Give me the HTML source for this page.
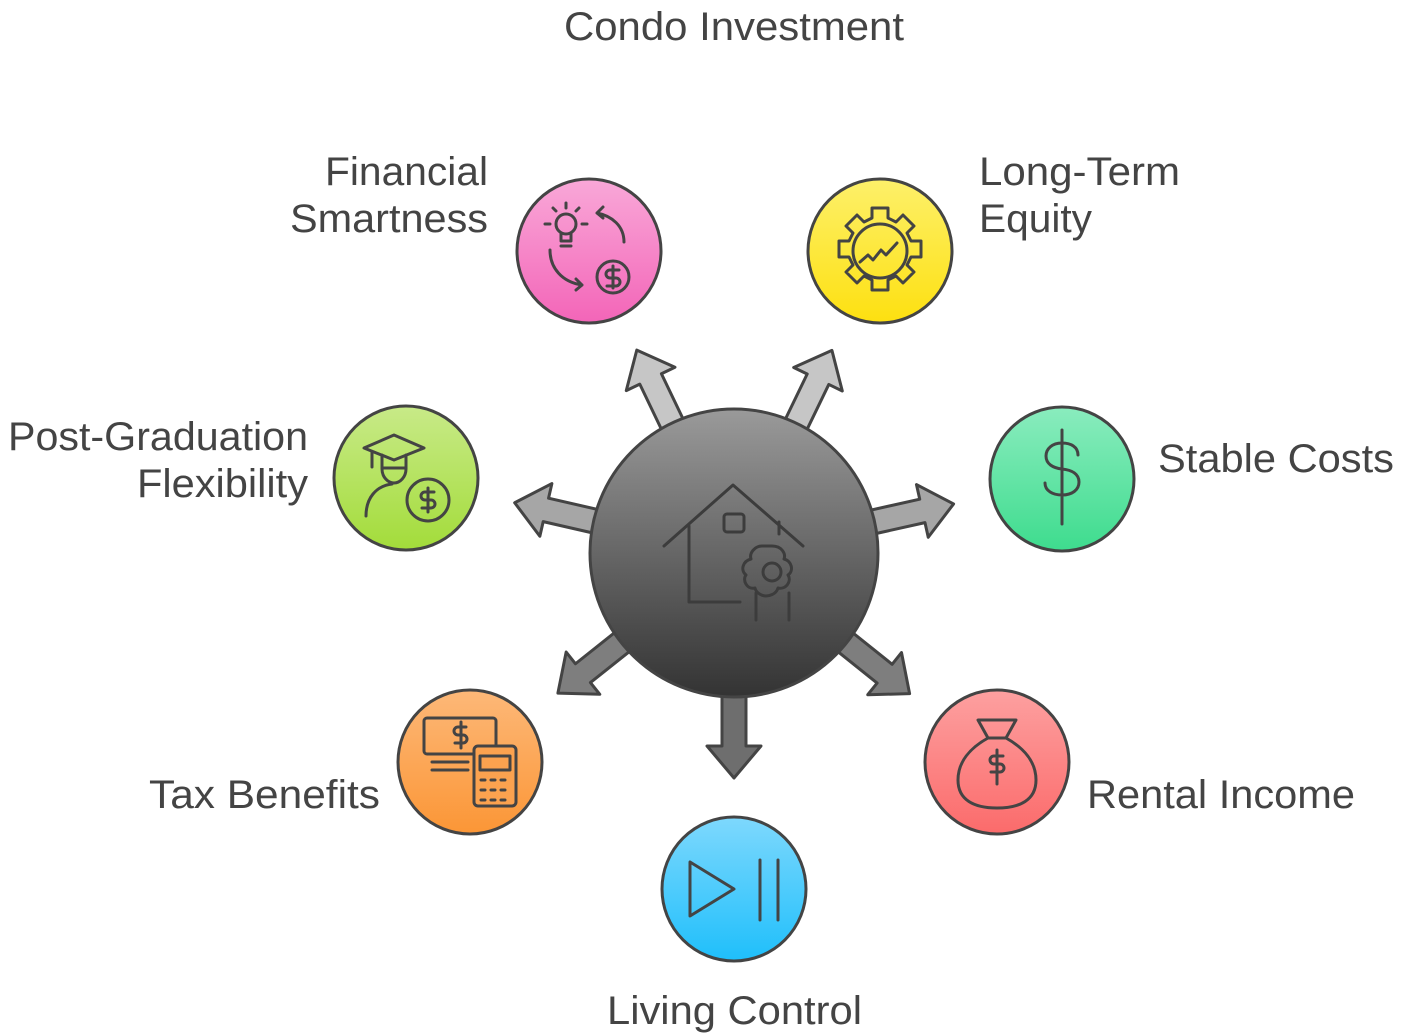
<!DOCTYPE html>
<html><head><meta charset="utf-8"><style>
html,body{margin:0;padding:0;background:#fff;}
svg{display:block;}
text{font-family:"Liberation Sans",sans-serif;font-size:40px;fill:#444;}
</style></head><body>
<svg width="1420" height="1036" viewBox="0 0 1420 1036" xmlns="http://www.w3.org/2000/svg">
<defs>
<linearGradient id="cg" x1="0" y1="0" x2="0" y2="1"><stop offset="0" stop-color="#9a9a9a"/><stop offset="1" stop-color="#333"/></linearGradient>
<linearGradient id="pk" x1="0" y1="0" x2="0" y2="1"><stop offset="0" stop-color="#f9a8d8"/><stop offset="1" stop-color="#f365b8"/></linearGradient>
<linearGradient id="yl" x1="0" y1="0" x2="0" y2="1"><stop offset="0" stop-color="#fdf06a"/><stop offset="1" stop-color="#fde010"/></linearGradient>
<linearGradient id="gr" x1="0" y1="0" x2="0" y2="1"><stop offset="0" stop-color="#c8ea88"/><stop offset="1" stop-color="#a3dc3a"/></linearGradient>
<linearGradient id="mt" x1="0" y1="0" x2="0" y2="1"><stop offset="0" stop-color="#8aecbe"/><stop offset="1" stop-color="#3edc8e"/></linearGradient>
<linearGradient id="or" x1="0" y1="0" x2="0" y2="1"><stop offset="0" stop-color="#fdb878"/><stop offset="1" stop-color="#fb9636"/></linearGradient>
<linearGradient id="rd" x1="0" y1="0" x2="0" y2="1"><stop offset="0" stop-color="#fda0a0"/><stop offset="1" stop-color="#fb6b6b"/></linearGradient>
<linearGradient id="bl" x1="0" y1="0" x2="0" y2="1"><stop offset="0" stop-color="#7ed8fd"/><stop offset="1" stop-color="#1fbffb"/></linearGradient>
</defs>
<text x="734" y="40" text-anchor="middle" textLength="340" lengthAdjust="spacingAndGlyphs">Condo Investment</text>

<g stroke="#444" stroke-width="3" stroke-linejoin="round">
<polygon fill="#c6c6c6" points="100,-12 193,-12 193,-27 225,0 193,27 193,12 100,12" transform="translate(734,553) rotate(-115.6)"/>
<polygon fill="#c6c6c6" points="100,-12 193,-12 193,-27 225,0 193,27 193,12 100,12" transform="translate(734,553) rotate(-64.2)"/>
<polygon fill="#a6a6a6" points="100,-12 193,-12 193,-27 225,0 193,27 193,12 100,12" transform="translate(734,553) rotate(-167.1)"/>
<polygon fill="#a6a6a6" points="100,-12 193,-12 193,-27 225,0 193,27 193,12 100,12" transform="translate(734,553) rotate(-12.6)"/>
<polygon fill="#7e7e7e" points="100,-12 193,-12 193,-27 225,0 193,27 193,12 100,12" transform="translate(734,553) rotate(141.5)"/>
<polygon fill="#7e7e7e" points="100,-12 193,-12 193,-27 225,0 193,27 193,12 100,12" transform="translate(734,553) rotate(38.7)"/>
<polygon fill="#6e6e6e" points="100,-12 193,-12 193,-27 225,0 193,27 193,12 100,12" transform="translate(734,553) rotate(90)"/>
</g>
<circle cx="734" cy="553" r="144" fill="url(#cg)" stroke="#444" stroke-width="3"/>
<g fill="none" stroke="#3c3c3c" stroke-width="3" stroke-linecap="round" stroke-linejoin="round">
<path d="M664 546 L733 485 L803 546"/><path d="M689 526 V602 H740"/><rect x="724" y="514" width="20" height="18" rx="3"/>
<path d="M779 522 V534"/><circle cx="772" cy="572" r="9"/>
<path d="M772 546 c10 0 14 8 12 13 c8 2 10 12 4 16 c4 6 -2 15 -10 13 c-2 7 -10 8 -12 8 c-4 0 -10 -3 -11 -8 c-8 2 -13 -8 -9 -13 c-6 -5 -3 -14 5 -16 c-2 -6 4 -13 11 -13z"/>
<path d="M756 593 V620 M789 593 V620"/>
</g>

<circle cx="589" cy="251" r="72" fill="url(#pk)" stroke="#444" stroke-width="3"/>
<circle cx="880" cy="251" r="72" fill="url(#yl)" stroke="#444" stroke-width="3"/>
<circle cx="406" cy="478" r="72" fill="url(#gr)" stroke="#444" stroke-width="3"/>
<circle cx="1062" cy="479" r="72" fill="url(#mt)" stroke="#444" stroke-width="3"/>
<circle cx="470" cy="762" r="72" fill="url(#or)" stroke="#444" stroke-width="3"/>
<circle cx="997" cy="762" r="72" fill="url(#rd)" stroke="#444" stroke-width="3"/>
<circle cx="734" cy="889" r="72" fill="url(#bl)" stroke="#444" stroke-width="3"/>

<g fill="none" stroke="#444" stroke-width="3" stroke-linecap="round" stroke-linejoin="round">
<circle cx="566" cy="224" r="10"/><path d="M561 234 v7 h10 v-7 M561 246 h10 M550 224 h-5 M582 224 h5 M556 211 l-3 -3 M576 211 l3 -3 M566 208 v-5"/>
<path d="M597 213 c15 3 27 13 27 29 M597 213 l6 -6 M597 213 l6 5"/>
<path d="M550 250 c0 18 12 32 32 35 M582 285 l-6 -6 M582 285 l-6 5"/>
<circle cx="613" cy="277" r="16"/><path d="M619 270 h-9 a4 4 0 0 0 0 8 h6 a4 4 0 0 1 0 8 h-9 M613 266 v22"/>
<path d="M872 208 h16 v10 l8 4 7-7 11 11-7 7 4 8 h10 v16 h-10 l-4 8 7 7-11 11-7-7-8 4 v10 h-16 v-10 l-8-4-7 7-11-11 7-7-4-8 h-10 v-16 h10 l4-8-7-7 11-11 7 7 8-4z"/>
<circle cx="880" cy="251" r="27"/><path d="M860 262 l8-7 5 5 8-10 5 5 11-12"/>
<path d="M364 448 l30 -13 30 13 -30 12z M372 452 v15 M382 455 v14 c0 8 6 14 12 14 c6 0 12 -6 12 -14 v-14 M382 468 h24"/>
<path d="M366 516 c0-18 10-30 26-32"/><circle cx="428" cy="500" r="21"/>
<path d="M434 492 h-9 a4 4 0 0 0 0 8 h6 a4 4 0 0 1 0 8 h-9 M428 488 v24"/>
<path d="M1078 455 c0-8-7-12-16-12 c-10 0-16 6-16 13 c0 8 7 12 16 13 c10 1 17 5 17 13 c0 8-7 13-17 13 c-9 0-17-4-17-12 M1062 430 v94"/>
<rect x="424" y="718" width="72" height="36" rx="3"/><path d="M432 762 h36 M432 770 h36"/>
<rect x="474" y="746" width="42" height="60" rx="4" fill="#fba24f"/><path d="M480 756 h30 v14 h-30z M481 780h4 M491 780h4 M501 780h4 M481 790h4 M491 790h4 M501 790h4 M481 800h4 M491 800h4 M501 800h4"/>
<path d="M466 727 h-8 a4 4 0 0 0 0 8 h5 a4 4 0 0 1 0 8 h-8 M461 722 v26"/>
<path d="M978 720 h38 l-10 18 c18 10 30 24 30 42 c0 20-16 28-39 28 c-23 0-39-8-39-28 c0-18 12-32 30-42z M988 738 h18"/>
<path d="M1003 756 h-9 a4 4 0 0 0 0 8 h6 a4 4 0 0 1 0 8 h-9 M997 750 v34"/>
<path d="M690 862 v54 l44-27z M760 860 v60 M778 860 v60"/>
</g>

<text x="325" y="185" textLength="163" lengthAdjust="spacingAndGlyphs">Financial</text>
<text x="290" y="232" textLength="198" lengthAdjust="spacingAndGlyphs">Smartness</text>
<text x="979" y="185" textLength="201" lengthAdjust="spacingAndGlyphs">Long-Term</text>
<text x="979" y="232" textLength="113" lengthAdjust="spacingAndGlyphs">Equity</text>
<text x="8" y="450" textLength="300" lengthAdjust="spacingAndGlyphs">Post-Graduation</text>
<text x="137" y="497" textLength="171" lengthAdjust="spacingAndGlyphs">Flexibility</text>
<text x="1158" y="472" textLength="236" lengthAdjust="spacingAndGlyphs">Stable Costs</text>
<text x="149" y="808" textLength="231" lengthAdjust="spacingAndGlyphs">Tax Benefits</text>
<text x="1087" y="808" textLength="268" lengthAdjust="spacingAndGlyphs">Rental Income</text>
<text x="607" y="1024" textLength="255" lengthAdjust="spacingAndGlyphs">Living Control</text>
</svg>
</body></html>
